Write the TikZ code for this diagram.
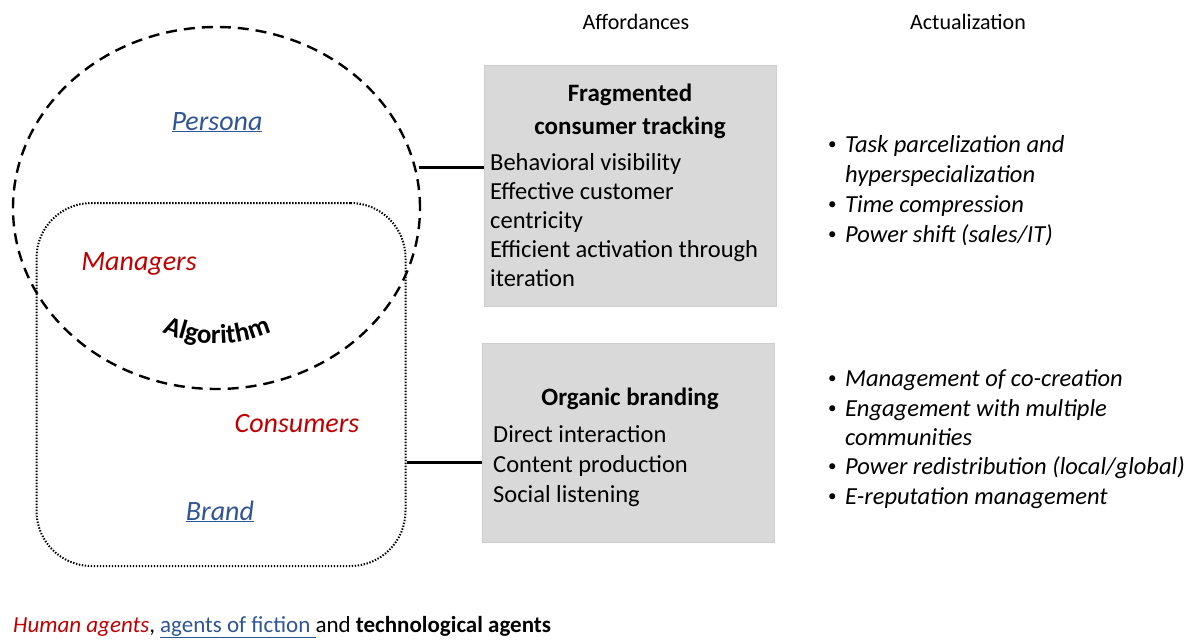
\documentclass[tikz,border=0pt]{standalone}
\usepackage{fontspec}
\setmainfont{Carlito}
\usetikzlibrary{shapes.geometric,decorations.text}
\definecolor{hred}{RGB}{192,0,0}
\definecolor{fblue}{RGB}{47,85,151}
\definecolor{boxgray}{RGB}{217,217,217}
\definecolor{boxline}{RGB}{205,205,205}
\newcommand{\smallbul}{\raisebox{2.5pt}{\fontsize{17}{20}\selectfont•}}
\tikzset{
  body/.style={anchor=base west, inner sep=0pt, font=\fontsize{24.5}{29}\selectfont},
  ttl/.style={anchor=base, inner sep=0pt, font=\fontsize{25}{29}\selectfont\bfseries},
  hdr/.style={anchor=base, inner sep=0pt, font=\fontsize{22}{26}\selectfont},
  act/.style={anchor=base west, inner sep=0pt, font=\fontsize{24.5}{29}\selectfont\itshape},
  bul/.style={anchor=base west, inner sep=0pt},
  agent/.style={anchor=base, inner sep=0pt, font=\fontsize{28}{32}\selectfont\itshape},
  affbox/.style={draw=boxline, fill=boxgray, minimum width=292pt, inner sep=0pt},
  conn/.style={line width=3pt},
}
\begin{document}
\begin{tikzpicture}[x=1pt,y=-1pt]
\useasboundingbox (0,0) rectangle (1200,640);
% headers
\node[hdr] (haff) at (636,29) {Affordances};
\node[hdr] (hact) at (968,29) {Actualization};
% shapes
\node[draw, dash pattern=on 11pt off 7pt, line width=2.4pt, ellipse, minimum width=407pt, minimum height=362pt, inner sep=0pt] (persona) at (216.5,208) {};
\node[draw, line width=2pt, dash pattern=on 1.4pt off 1.6pt, rounded corners=55pt, minimum width=369pt, minimum height=363pt, inner sep=0pt] (brandbox) at (221,384.5) {};
% agent labels
\node[agent, text=fblue] (lpersona) at (217,130) {\underline{Persona}};
\node[agent, text=hred] (lmanagers) at (139,270) {Managers};
\node[agent, text=hred] (lconsumers) at (297,432) {Consumers};
\node[agent, text=fblue] (lbrand) at (220,520) {\underline{Brand}};
\path[decorate, decoration={text along path, text align=center, text={|\fontsize{27}{31}\selectfont\bfseries|Algorithm}}] (150,325) .. controls (190,350) and (242,350) .. (284,326);
% boxes
\node[affbox, minimum height=241pt] (box1) at (630,186) {};
\node[affbox, minimum height=199pt] (box2) at (628,442.5) {};
% box1 text
\node[ttl] (t1a) at (630,101) {Fragmented};
\node[ttl] (t1b) at (630,134) {consumer tracking};
\node[body] (b1a) at (490,170) {Behavioral visibility};
\node[body] (b1b) at (490,199.5) {Effective customer};
\node[body] (b1c) at (490,228.5) {centricity};
\node[body] (b1d) at (490,257.5) {Efficient activation through};
\node[body] (b1e) at (490,286.5) {iteration};
% box2 text
\node[ttl] (t2a) at (630,405) {Organic branding};
\node[body] (b2a) at (493,442) {Direct interaction};
\node[body] (b2b) at (493,472) {Content production};
\node[body] (b2c) at (493,502) {Social listening};
% connectors
\coordinate (c1) at (419,167);
\draw[conn] (c1) -- (c1 -| box1.west);
\coordinate (c2) at (brandbox.east |- 0,462);
\draw[conn] (c2) -- (c2 -| box2.west);
% actualization lists
\node[bul] (u1) at (828,152) {\smallbul};
\node[act] (a1) at (845,152) {Task parcelization and};
\node[act] (a2) at (845,182) {hyperspecialization};
\node[bul] (u3) at (828,212) {\smallbul};
\node[act] (a3) at (845,212) {Time compression};
\node[bul] (u4) at (828,242) {\smallbul};
\node[act] (a4) at (845,242) {Power shift (sales/IT)};
\node[bul] (v1) at (828,386) {\smallbul};
\node[act] (d1) at (845,386) {Management of co-creation};
\node[bul] (v2) at (828,416) {\smallbul};
\node[act] (d2) at (845,416) {Engagement with multiple};
\node[act] (d3) at (845,445) {communities};
\node[bul] (v4) at (828,474) {\smallbul};
\node[act] (d4) at (845,474) {Power redistribution (local/global)};
\node[bul] (v5) at (828,504) {\smallbul};
\node[act] (d5) at (845,504) {E-reputation management};
% legend
\node[anchor=base west, inner sep=0pt, font=\fontsize{23}{27}\selectfont] (legend) at (13,632)
  {\textcolor{hred}{\itshape Human agents}, \textcolor{fblue}{\underline{agents of fiction }}and \textbf{technological agents}};
\end{tikzpicture}
\end{document}
